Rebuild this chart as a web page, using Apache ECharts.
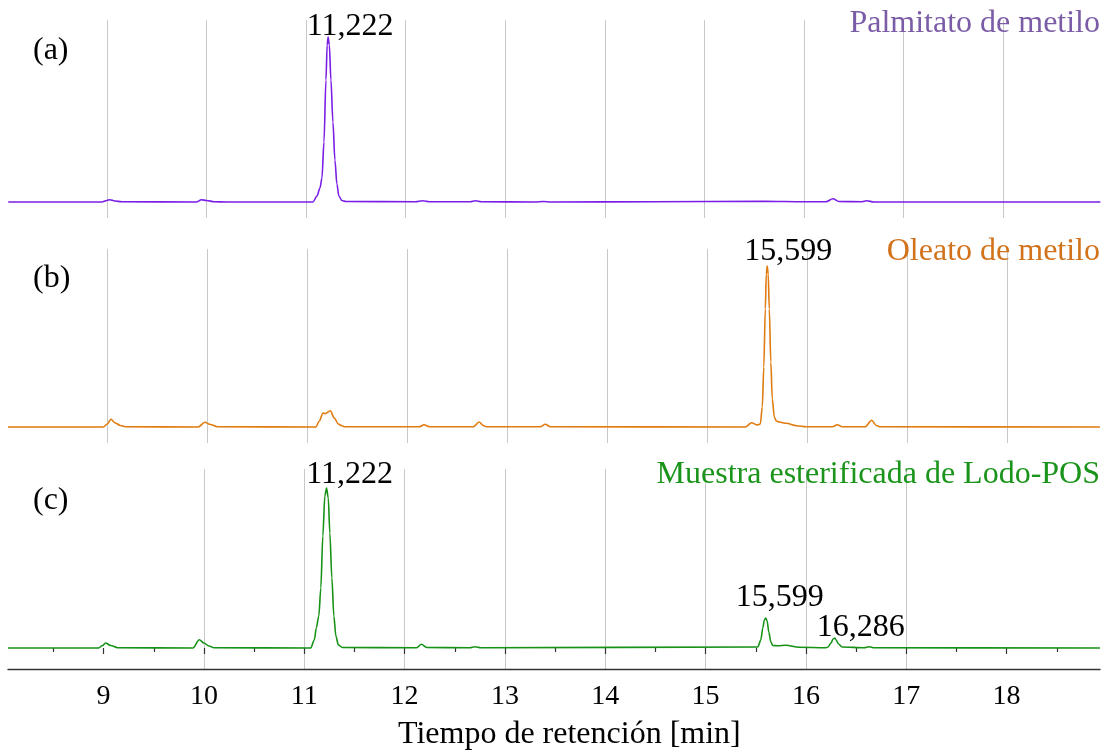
<!DOCTYPE html>
<html>
<head>
<meta charset="utf-8">
<script src="https://cdn.jsdelivr.net/npm/echarts@6/dist/echarts.min.js"></script>
<style>
  html, body { margin: 0; padding: 0; background: #ffffff; }
  #chart { width: 1108px; height: 752px; }
</style>
</head>
<body>
<div id="chart"></div>
<script>
// Retention-time ticks (min)
const tickMinutes = [9, 10, 11, 12, 13, 14, 15, 16, 17, 18];
const axisTitle = 'Tiempo de retención [min]';
const panelTitles = ['Palmitato de metilo', 'Oleato de metilo', 'Muestra esterificada de Lodo-POS'];
const panelTags = ['(a)', '(b)', '(c)'];

// (a) Palmitato de metilo: retention time (min) and detector signal
const timeA = [8.01, 8.95, 9.00, 9.03, 9.08, 9.15, 9.90, 9.95, 10.00, 10.08, 10.20, 11.00, 11.07, 11.11, 11.14, 11.16, 11.18, 11.20, 11.212, 11.222, 11.234, 11.25, 11.27, 11.29, 11.31, 11.33, 11.36, 11.40, 12.10, 12.17, 12.24, 12.65, 12.70, 12.76, 13.30, 13.38, 13.46, 14.50, 15.60, 16.00, 16.22, 16.29, 16.35, 16.58, 16.63, 16.70, 18.975];
const signalA = [0, 0, 1.5, 2.3, 1, 0.2, 0, 2.3, 1.5, 0.3, 0, 0, 0, 6, 14, 24, 60, 122, 157, 165, 157, 122, 80, 42, 18, 6, 1.5, 0.5, 0.2, 1.2, 0.2, 0.2, 1.2, 0.2, 0, 0.5, 0, 0.2, 0.8, 0.3, 0.3, 3.2, 0.5, 0.3, 1.2, 0, 0];
const peaksA = [11.222];

// (b) Oleato de metilo
const timeB = [8.007, 8.96, 9.00, 9.036, 9.08, 9.13, 9.18, 9.91, 9.975, 10.03, 10.10, 11.086, 11.12, 11.157, 11.18, 11.23, 11.27, 11.31, 11.34, 11.37, 12.12, 12.168, 12.22, 12.66, 12.718, 12.76, 12.79, 13.33, 13.379, 13.43, 15.38, 15.443, 15.50, 15.53, 15.55, 15.565, 15.58, 15.59, 15.599, 15.609, 15.62, 15.635, 15.65, 15.67, 15.69, 15.72, 15.79, 15.89, 15.99, 16.25, 16.30, 16.35, 16.58, 16.643, 16.69, 16.73, 18.927];
const signalB = [0, 0, 3, 7.7, 4, 1.5, 0.3, 0, 4.7, 2.5, 0.3, 0, 6, 14, 13.3, 16.3, 9, 3, 1.5, 0.3, 0.2, 2.3, 0.3, 0.2, 5, 1.5, 0.2, 0.2, 2.7, 0.3, 0, 4.3, 2, 3, 20, 60, 118, 153, 161, 153, 118, 65, 28, 10, 6, 5, 3.7, 1.3, 0.3, 0.2, 2.3, 0.3, 0.3, 6.7, 1.5, 0.2, 0];
const peaksB = [15.599];

// (c) Muestra esterificada de Lodo-POS
const timeC = [8.047, 8.95, 8.99, 9.02, 9.07, 9.14, 9.89, 9.954, 10.00, 10.05, 10.10, 11.064, 11.10, 11.12, 11.145, 11.165, 11.185, 11.205, 11.222, 11.239, 11.255, 11.275, 11.295, 11.315, 11.34, 11.38, 12.12, 12.167, 12.22, 12.65, 12.70, 12.76, 15.52, 15.55, 15.57, 15.585, 15.599, 15.613, 15.63, 15.65, 15.67, 15.72, 15.80, 15.93, 16.20, 16.22, 16.25, 16.27, 16.286, 16.30, 16.325, 16.36, 16.58, 16.63, 16.68, 18.93];
const signalC = [0, 0, 2.5, 5, 2.5, 0.3, 0, 8.3, 5, 2, 0.3, 0, 8, 20, 32, 60, 112, 152, 160, 150, 115, 70, 32, 12, 3, 0.5, 0.3, 3.7, 0.5, 0.3, 1.3, 0.3, 1, 8, 20, 28, 30, 27, 16, 6, 2.5, 2.3, 2.7, 0.7, 0.3, 1, 5, 9, 10, 8, 4, 1, 0.3, 1.3, 0.2, 0];
const peaksC = [11.222, 15.599, 16.286];

const SERIF = '"Liberation Serif", "Times New Roman", Times, serif';
const TEXT_SIZE = 32;

// Panel layout and styling
const panels = [
  { time: timeA, signal: signalA, peaks: peaksA, color: '#7a1ee6', titleColor: '#7b5ca6',
    grid: { left: 7.2, width: 1095.7, top: 20, height: 198 }, yRange: [-16, 182],
    titleTop: 8, tagTop: 35, labelOffsets: [[22, 11]] },
  { time: timeB, signal: signalB, peaks: peaksB, color: '#e07b0f', titleColor: '#d2731c',
    grid: { left: 7.3, width: 1100, top: 249, height: 194 }, yRange: [-16, 178],
    titleTop: 236, tagTop: 263, labelOffsets: [[21, 7]] },
  { time: timeC, signal: signalC, peaks: peaksC, color: '#169216', titleColor: '#1a941a',
    grid: { left: 3.26, width: 1103.7, top: 469, height: 200 }, yRange: [-21, 179],
    titleTop: 459, tagTop: 485, labelOffsets: [[23, 8], [14, 1], [26, 11]] }
];

const fmtTime = v => v.toFixed(3).replace('.', ',');

const grids = [], xAxes = [], yAxes = [], series = [], titles = [];

panels.forEach((p, i) => {
  const isBottom = i === panels.length - 1;
  grids.push(Object.assign({ containLabel: false }, p.grid));
  xAxes.push({
    type: 'value', gridIndex: i, min: 8, max: 19, interval: 1,
    axisLine: { show: false },
    axisTick: isBottom ? { show: true, customValues: tickMinutes, length: 6, lineStyle: { color: '#333333', width: 1.2 } } : { show: false },
    minorTick: isBottom ? { show: true, splitNumber: 2, length: 4, lineStyle: { color: '#333333', width: 1.2 } } : { show: false },
    axisLabel: isBottom ? { show: true, customValues: tickMinutes, margin: 14, fontFamily: SERIF, fontSize: 28, color: '#000000' } : { show: false },
    splitLine: { show: true, showMinLine: false, showMaxLine: false, lineStyle: { color: '#c8c8c8', width: 1 } }
  });
  yAxes.push({ type: 'value', gridIndex: i, min: p.yRange[0], max: p.yRange[1], show: false, splitLine: { show: false } });

  const data = p.time.map((t, k) => {
    const peakIdx = p.peaks.indexOf(t);
    if (peakIdx < 0) return [t, p.signal[k]];
    return {
      value: [t, p.signal[k]],
      label: {
        show: true, position: 'top', distance: 5,
        offset: p.labelOffsets[peakIdx],
        formatter: fmtTime(t),
        fontFamily: SERIF, fontSize: TEXT_SIZE, lineHeight: 32, color: '#000000'
      }
    };
  });
  series.push({
    type: 'line', xAxisIndex: i, yAxisIndex: i, data: data,
    showSymbol: true, symbol: 'circle', symbolSize: 0,
    smooth: 0.3, smoothMonotone: 'x',
    lineStyle: { color: p.color, width: 1.6 },
    itemStyle: { color: p.color },
    emphasis: { disabled: true }, silent: true, z: 3
  });

  titles.push({ text: panelTitles[i], right: 8, top: p.titleTop, padding: 0,
    textStyle: { fontFamily: SERIF, fontSize: TEXT_SIZE, fontWeight: 'normal', color: p.titleColor } });
  titles.push({ text: panelTags[i], left: 33, top: p.tagTop, padding: 0,
    textStyle: { fontFamily: SERIF, fontSize: TEXT_SIZE, fontWeight: 'normal', color: '#000000' } });
});

// Bottom axis line spanning the recorded time window
grids.push({ left: 8, width: 1092, top: 469, height: 200 });
xAxes.push({ type: 'value', gridIndex: 3, min: 8.047, max: 18.93,
  axisLine: { show: true, lineStyle: { color: '#333333', width: 1.4 } },
  axisTick: { show: false }, axisLabel: { show: false }, splitLine: { show: false } });
yAxes.push({ type: 'value', gridIndex: 3, show: false, splitLine: { show: false } });

titles.push({ text: axisTitle, left: 398, top: 719, padding: 0,
  textStyle: { fontFamily: SERIF, fontSize: TEXT_SIZE, fontWeight: 'normal', color: '#000000' } });

const chart = echarts.init(document.getElementById('chart'), null, { renderer: 'canvas' });
chart.setOption({
  backgroundColor: '#ffffff',
  animation: false,
  title: titles,
  grid: grids,
  xAxis: xAxes,
  yAxis: yAxes,
  series: series
});
</script>
</body>
</html>
